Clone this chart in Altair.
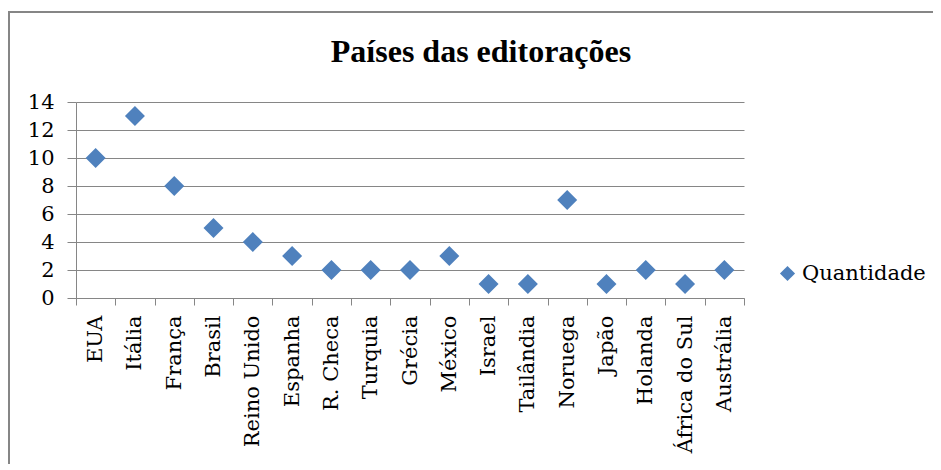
import altair as alt
import pandas as pd

countries = ["EUA", "Itália", "França", "Brasil", "Reino Unido", "Espanha", "R. Checa",
             "Turquia", "Grécia", "México", "Israel", "Tailândia", "Noruega", "Japão",
             "Holanda", "África do Sul", "Austrália"]
values = [10, 13, 8, 5, 4, 3, 2, 2, 2, 3, 1, 1, 7, 1, 2, 1, 2]
series = "Quantidade"
y_ticks = [0, 2, 4, 6, 8, 10, 12, 14]

df = pd.DataFrame({"pais": countries, "valor": values, "serie": [series] * len(countries)})

TITLE_FONT = "Liberation Serif"
FONT = "DejaVu Serif"
GRAY = "#868686"
BLUE = "#4F81BD"

points = alt.Chart(df).mark_point(shape="diamond", filled=True, size=400, opacity=1).encode(
    x=alt.X("pais:N", sort=countries, title=None,
            scale=alt.Scale(paddingInner=0, paddingOuter=0),
            axis=alt.Axis(labelAngle=-90, tickBand="extent", grid=False,
                          domainColor=GRAY, tickColor=GRAY, tickSize=7, labelFont=FONT,
                          labelPadding=10, labelFontSize=21, labelColor="black")),
    y=alt.Y("valor:Q", title=None,
            scale=alt.Scale(domain=[0, 14], nice=False),
            axis=alt.Axis(values=y_ticks, grid=True, gridColor=GRAY, domainColor=GRAY,
                          tickColor=GRAY, tickSize=9, labelPadding=13, labelFont=FONT,
                          labelFontSize=21, labelColor="black")),
    color=alt.Color("serie:N", scale=alt.Scale(range=[BLUE]),
                    legend=alt.Legend(title=None, orient="none", legendX=701, legendY=161,
                                      symbolType="diamond", symbolSize=230, padding=0,
                                      labelFontSize=21, labelColor="black", labelFont=FONT,
                                      labelOffset=4, symbolOpacity=1, symbolStrokeWidth=0)),
)

border = alt.Chart(df).mark_rect(fill=None, stroke=GRAY, strokeWidth=2).encode(
    x=alt.value(-67), x2=alt.value(950), y=alt.value(-90), y2=alt.value(500)
)

chart = alt.layer(border, points).properties(
    width=668, height=196,
    title=alt.TitleParams("Países das editorações", fontSize=32, fontWeight="bold",
                          color="black", anchor="middle", dx=71, dy=86, offset=28),
    autosize=alt.AutoSizeParams(type="none"),
    padding={"left": 68, "top": 94, "right": 189, "bottom": 166},
).configure_title(font=TITLE_FONT).configure_view(stroke=None)

chart.save("out.html", embed_options={"renderer": "svg", "actions": False})
